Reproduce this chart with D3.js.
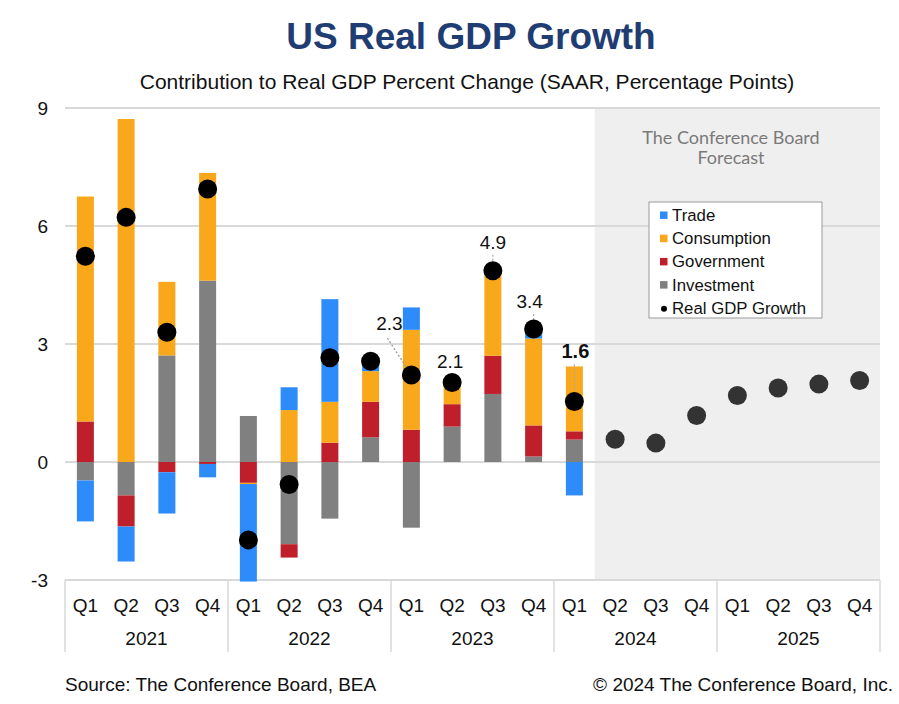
<!DOCTYPE html>
<html>
<head>
<meta charset="utf-8">
<script src="https://cdn.jsdelivr.net/npm/d3@7"></script>
<style>
  html, body { margin: 0; padding: 0; background: #ffffff; }
  svg { display: block; }
</style>
</head>
<body>
<svg id="chart" width="899" height="704"></svg>
<script>
// ---------- DATA ----------
const years = ["2021", "2022", "2023", "2024", "2025"];
const quarters = ["Q1", "Q2", "Q3", "Q4"];
const seriesNames = ["Trade", "Consumption", "Government", "Investment"];
// historical quarters 2021Q1 .. 2024Q1
const investment  = [-0.47, -0.85, 2.71, 4.61, 1.17, -2.09, -1.44, 0.63, -1.67, 0.90, 1.73, 0.14, 0.57];
const government  = [1.03, -0.79, -0.26, -0.05, -0.53, -0.34, 0.49, 0.90, 0.82, 0.57, 0.97, 0.79, 0.21];
const consumption = [5.72, 8.72, 1.87, 2.74, -0.03, 1.32, 1.04, 0.78, 2.54, 0.50, 2.13, 2.21, 1.65];
const trade       = [-1.04, -0.89, -1.05, -0.34, -2.48, 0.58, 2.61, 0.17, 0.57, 0.04, 0.03, 0.17, -0.85];
const gdpGrowth   = [5.23, 6.22, 3.30, 6.94, -1.98, -0.57, 2.65, 2.56, 2.21, 2.02, 4.86, 3.38, 1.54];
// forecast 2024Q2 .. 2025Q4
const forecastGrowth = [0.58, 0.48, 1.18, 1.69, 1.88, 1.98, 2.07];
const yTicks = [-3, 0, 3, 6, 9];
// value labels (index into historical quarters)
const labelIndex = [8, 9, 10, 11, 12];
const labelText  = ["2.3", "2.1", "4.9", "3.4", "1.6"];

// ---------- STYLE / LAYOUT ----------
const colors = { Trade: "#2E8BFA", Consumption: "#F9A71B", Government: "#BF1F2B", Investment: "#808080" };
const labelStyle = [
  { dx: -22, dy: -45, bold: false, leader: "diag" },
  { dx: -2,  dy: -15, bold: false, leader: null },
  { dx: 0,   dy: -22, bold: false, leader: "vert" },
  { dx: -4,  dy: -21, bold: false, leader: "vert" },
  { dx: 1,   dy: -43, bold: true,  leader: "vert" }
];
const FONT = "'Liberation Sans', Arial, sans-serif";

const svg = d3.select("#chart");
const plot = { left: 65, right: 880, top: 108, bottom: 580 };

const categories = [];
years.forEach(y => quarters.forEach(q => categories.push(y + " " + q)));

const x = d3.scaleBand().domain(categories).range([plot.left, plot.right]).padding(0);
const xYear = d3.scaleBand().domain(years).range([plot.left, plot.right]).padding(0);
const y = d3.scaleLinear().domain([-3, 9]).range([plot.bottom, plot.top]);
const barW = 17;

// Title
svg.append("text").attr("x", 471).attr("y", 49).attr("text-anchor", "middle")
  .attr("font-family", FONT).attr("font-weight", "bold").attr("font-size", 37)
  .attr("fill", "#1F3D73").text("US Real GDP Growth");
svg.append("text").attr("x", 467).attr("y", 89).attr("text-anchor", "middle")
  .attr("font-family", FONT).attr("font-size", 21)
  .attr("fill", "#111").text("Contribution to Real GDP Percent Change (SAAR, Percentage Points)");

// Forecast shading
const fcStart = x(categories[13]);
svg.append("rect").attr("x", fcStart).attr("y", plot.top)
  .attr("width", plot.right - fcStart).attr("height", plot.bottom - plot.top)
  .attr("fill", "#EFEFEF");
svg.append("text").attr("x", 731).attr("y", 144)
  .attr("text-anchor", "middle").attr("font-family", "Lato, 'Open Sans', sans-serif")
  .attr("font-size", 18).attr("fill", "#7a7a7a").text("The Conference Board");
svg.append("text").attr("x", 731).attr("y", 164)
  .attr("text-anchor", "middle").attr("font-family", "Lato, 'Open Sans', sans-serif")
  .attr("font-size", 18).attr("fill", "#7a7a7a").text("Forecast");

// Gridlines
svg.append("g").selectAll("line").data(yTicks).join("line")
  .attr("x1", plot.left).attr("x2", plot.right)
  .attr("y1", d => y(d)).attr("y2", d => y(d))
  .attr("stroke", "#D9D9D9").attr("stroke-width", 2);

// Y tick labels
svg.append("g").selectAll("text").data(yTicks).join("text")
  .attr("x", 48).attr("y", d => y(d) + 7).attr("text-anchor", "end")
  .attr("font-family", FONT).attr("font-size", 19).attr("fill", "#111")
  .text(d => d);

// Stacked bars
const histRows = gdpGrowth.map((g, i) => ({
  cat: categories[i],
  Investment: investment[i], Government: government[i],
  Consumption: consumption[i], Trade: trade[i]
}));
const stack = d3.stack().keys(["Investment", "Government", "Consumption", "Trade"])
  .offset(d3.stackOffsetDiverging);
const layers = stack(histRows);
const gBars = svg.append("g");
layers.forEach(layer => {
  gBars.append("g").attr("fill", colors[layer.key]).selectAll("rect").data(layer).join("rect")
    .attr("x", d => x(d.data.cat) + (x.bandwidth() - barW) / 2)
    .attr("width", barW)
    .attr("y", d => y(Math.max(d[0], d[1])))
    .attr("height", d => Math.abs(y(d[0]) - y(d[1])));
});

// Leader lines
const gLab = svg.append("g");
labelIndex.forEach((idx, k) => {
  const cx = x(categories[idx]) + x.bandwidth() / 2;
  const cy = y(gdpGrowth[idx]);
  const st = labelStyle[k];
  const lx = cx + st.dx, ly = cy + st.dy;
  if (st.leader === "diag") {
    gLab.append("line").attr("x1", lx - 2).attr("y1", ly + 8).attr("x2", cx).attr("y2", cy)
      .attr("stroke", "#9a9a9a").attr("stroke-width", 1.3).attr("stroke-dasharray", "2,2");
  } else if (st.leader === "vert") {
    gLab.append("line").attr("x1", cx).attr("y1", ly + 6).attr("x2", cx).attr("y2", cy + 4)
      .attr("stroke", "#aaaaaa").attr("stroke-width", 1.3).attr("stroke-dasharray", "2,2");
  }
});

// GDP dots (historical)
svg.append("g").selectAll("circle").data(gdpGrowth).join("circle")
  .attr("cx", (d, i) => x(categories[i]) + x.bandwidth() / 2)
  .attr("cy", d => y(d)).attr("r", 9.5).attr("fill", "#000");
// forecast dots
svg.append("g").selectAll("circle").data(forecastGrowth).join("circle")
  .attr("cx", (d, i) => x(categories[13 + i]) + x.bandwidth() / 2)
  .attr("cy", d => y(d)).attr("r", 9.5).attr("fill", "#333");

// dotted leader visible through dot
labelIndex.forEach((idx, k) => {
  const cx = x(categories[idx]) + x.bandwidth() / 2;
  const cy = y(gdpGrowth[idx]);
  const st = labelStyle[k];
  if (st.leader) {
    gLab.append("line").attr("x1", cx).attr("y1", cy - 9).attr("x2", cx).attr("y2", cy + 4)
      .attr("stroke", "#bbbbbb").attr("stroke-width", 1.2).attr("stroke-dasharray", "2,2");
  }
});
const gText = svg.append("g");
labelIndex.forEach((idx, k) => {
  const cx = x(categories[idx]) + x.bandwidth() / 2;
  const cy = y(gdpGrowth[idx]);
  const st = labelStyle[k];
  gText.append("text").attr("x", cx + st.dx).attr("y", cy + st.dy)
    .attr("text-anchor", "middle").attr("font-family", FONT)
    .attr("font-size", st.bold ? 20 : 19).attr("font-weight", st.bold ? "bold" : "normal")
    .attr("fill", "#111").text(labelText[k]);
});

// X axis: quarter labels, year labels, separators
svg.append("g").selectAll("text").data(categories).join("text")
  .attr("x", d => x(d) + x.bandwidth() / 2).attr("y", 612)
  .attr("text-anchor", "middle").attr("font-family", FONT).attr("font-size", 19)
  .attr("fill", "#111").text(d => d.split(" ")[1]);
svg.append("g").selectAll("text").data(years).join("text")
  .attr("x", d => xYear(d) + xYear.bandwidth() / 2).attr("y", 645)
  .attr("text-anchor", "middle").attr("font-family", FONT).attr("font-size", 19)
  .attr("fill", "#111").text(d => d);
const seps = years.map(d => xYear(d)).concat([plot.right]);
svg.append("g").selectAll("line").data(seps).join("line")
  .attr("x1", d => d).attr("x2", d => d).attr("y1", plot.bottom).attr("y2", 652)
  .attr("stroke", "#D9D9D9").attr("stroke-width", 1.5);

// Legend
const lg = svg.append("g").attr("transform", "translate(649,202)");
lg.append("rect").attr("x", 0).attr("y", 0).attr("width", 173).attr("height", 116)
  .attr("fill", "#fff").attr("stroke", "#9a9a9a").attr("stroke-width", 1);
const legendItems = seriesNames.concat(["Real GDP Growth"]);
legendItems.forEach((name, i) => {
  const cy = 13 + i * 23.2;
  if (colors[name]) {
    lg.append("rect").attr("x", 11).attr("y", cy - 3.5).attr("width", 7.5).attr("height", 7.5)
      .attr("fill", colors[name]);
  } else {
    lg.append("circle").attr("cx", 15).attr("cy", cy + 1).attr("r", 3).attr("fill", "#000");
  }
  lg.append("text").attr("x", 23).attr("y", cy + 6).attr("font-family", FONT)
    .attr("font-size", 16.8).attr("fill", "#111").text(name);
});

// Footer
svg.append("text").attr("x", 65).attr("y", 691).attr("font-family", FONT)
  .attr("font-size", 19).attr("fill", "#111").text("Source: The Conference Board, BEA");
svg.append("text").attr("x", 893).attr("y", 691).attr("text-anchor", "end")
  .attr("font-family", FONT).attr("font-size", 19).attr("fill", "#111")
  .text("© 2024 The Conference Board, Inc.");
</script>
</body>
</html>
